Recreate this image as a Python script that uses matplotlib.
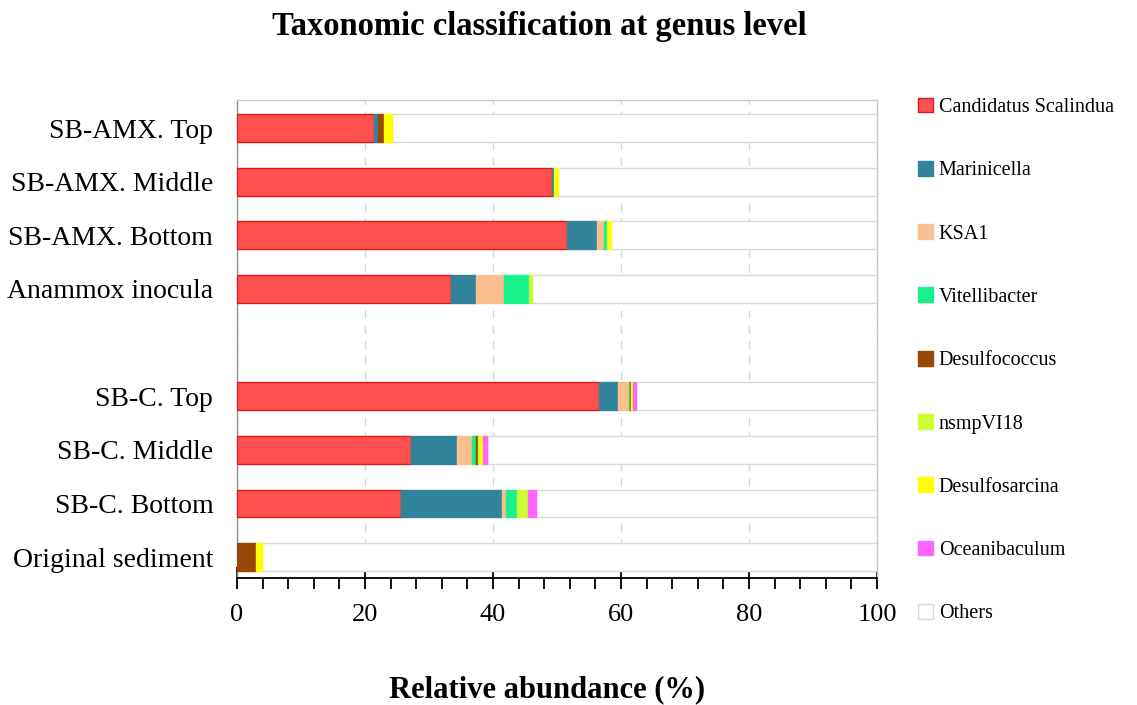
import numpy as np
import matplotlib
matplotlib.use("Agg")
import matplotlib.pyplot as plt
from matplotlib.patches import Patch
from matplotlib.ticker import MultipleLocator

plt.rcParams['font.family'] = ['Liberation Serif', 'DejaVu Serif']

# samples (empty slot separates the two groups)
samples = ["SB-AMX. Top", "SB-AMX. Middle", "SB-AMX. Bottom", "Anammox inocula", "",
           "SB-C. Top", "SB-C. Middle", "SB-C. Bottom", "Original sediment"]

# relative abundance (%) per genus
scalindua      = [21.4, 49.3, 51.5, 33.4, 0, 56.5, 27.2, 25.6, 0]
marinicella    = [0.7, 0.3, 4.8, 4.0, 0, 3.0, 7.2, 15.8, 0]
ksa1           = [0, 0, 1.0, 4.3, 0, 1.8, 2.4, 0.7, 0]
vitellibacter  = [0, 0, 0.5, 4.0, 0, 0.1, 0.5, 1.6, 0]
desulfococcus  = [0.9, 0, 0, 0, 0, 0.1, 0.3, 0, 2.9]
nsmpvi18       = [0, 0, 0.2, 0.4, 0, 0.1, 0.4, 1.7, 0]
desulfosarcina = [1.2, 0.5, 0.4, 0, 0, 0.3, 0.4, 0, 1.0]
oceanibaculum  = [0, 0, 0, 0, 0, 0.5, 0.7, 1.3, 0]

genera = ["Candidatus Scalindua", "Marinicella", "KSA1", "Vitellibacter", "Desulfococcus",
          "nsmpVI18", "Desulfosarcina", "Oceanibaculum"]
values = [scalindua, marinicella, ksa1, vitellibacter, desulfococcus,
          nsmpvi18, desulfosarcina, oceanibaculum]
colors = ["#FF5050", "#31849B", "#FABF8F", "#1AF08C", "#974706",
          "#CCFF33", "#FFFF00", "#FF66FF"]
edges = ["#E01818", "#31849B", "#FABF8F", "#1AF08C", "#974706",
         "#CCFF33", "#FFFF00", "#FF66FF"]

fig = plt.figure(figsize=(11.37, 7.05), dpi=100)
ax = fig.add_axes([0.2084, 0.180, 0.5629, 0.678])

y = np.arange(len(samples))
h = 0.52
left = np.zeros(len(samples))
for name, vals, c, ec in zip(genera, values, colors, edges):
    vals = np.array(vals, dtype=float)
    m = vals > 0
    ax.barh(y[m], vals[m], left=left[m], height=h, color=c, edgecolor=ec,
            linewidth=1.0, zorder=3)
    left += vals

# Others fill up to 100
real = np.array([s != "" for s in samples])
others = 100 - left
ax.barh(y[real], others[real], left=left[real], height=h, color="white",
        edgecolor="#D9D9D9", linewidth=1.0, zorder=2)

ax.set_xlim(0, 100)
ax.set_ylim(8.39, -0.52)
ax.set_yticks(y)
ax.set_yticklabels(samples, fontsize=20)
ax.tick_params(axis='y', length=0, pad=17)

ax.xaxis.set_major_locator(MultipleLocator(20))
ax.xaxis.set_minor_locator(MultipleLocator(4))
ax.tick_params(axis='x', which='major', direction='inout', length=16, width=1.3,
               labelsize=19, pad=11)
ax.tick_params(axis='x', which='minor', direction='out', length=8, width=1.3)

ax.grid(axis='x', color="#C9DCE3", linestyle=(0, (6, 5)), linewidth=1.0, zorder=0)

for s in ['top', 'right', 'left']:
    ax.spines[s].set_color("#C8C8C8")
    ax.spines[s].set_linewidth(1.0)
ax.spines['left'].set_color("#909090")
ax.spines['bottom'].set_color("black")
ax.spines['bottom'].set_linewidth(1.3)

fig.text(0.474, 0.962, "Taxonomic classification at genus level", ha='center', va='center',
         fontsize=23.5, fontweight='bold')
fig.text(0.481, 0.022, "Relative abundance (%)", ha='center', va='center',
         fontsize=22, fontweight='bold')

handles = [Patch(facecolor=c, edgecolor=ec, linewidth=1.0) for c, ec in zip(colors, edges)]
handles.append(Patch(facecolor="white", edgecolor="#D9D9D9", linewidth=1.0))
labels = genera + ["Others"]
fig.legend(handles, labels, loc='upper left', bbox_to_anchor=(0.800, 0.873),
           frameon=False, fontsize=14.5, labelspacing=2.18, handlelength=0.75,
           handleheight=0.75, handletextpad=0.3, borderaxespad=0)

fig.savefig("out.png", dpi=100)
